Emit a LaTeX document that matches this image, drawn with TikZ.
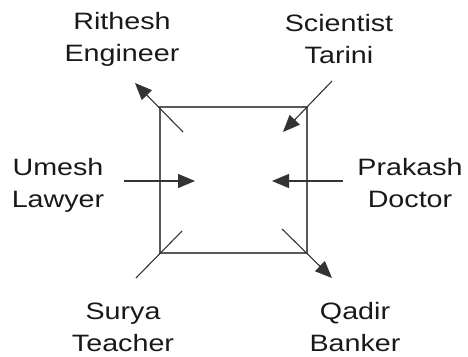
\documentclass[tikz,border=0pt]{standalone}
\usepackage{fontspec}
\setmainfont{Liberation Sans}
\usetikzlibrary{arrows.meta}
\tikzset{
  person/.style={align=center, anchor=base, xscale=1.21, text=black!90,
    font=\fontsize{23.7}{32}\selectfont},
  seat/.style={draw=black!80, line width=1.1pt},
  face/.style={seat, -{Triangle[length=17pt,width=14pt]}},
}
\begin{document}
\begin{tikzpicture}[x=1pt,y=-1pt]
  \useasboundingbox (0,0) rectangle (468,356);
  % table
  \draw[black!65, line width=1.6pt] (160,107) rectangle (307,253);
  % people (base = last line)
  \node[person] (rithesh) at (122,61.5) {Rithesh\\Engineer};
  \node[person] (tarini) at (339,63) {Scientist\\Tarini};
  \node[person] (umesh) at (58,207) {Umesh\\Lawyer};
  \node[person] (prakash) at (410,207) {Prakash\\Doctor};
  \node[person] (surya) at (123,351) {Surya\\Teacher};
  \node[person] (qadir) at (355,351) {Qadir\\Banker};
  % facing directions
  \coordinate (nwIn) at (183,132);  \coordinate (nwOut) at (135,83);
  \coordinate (neOut) at (332,81);  \coordinate (neIn) at (283,132);
  \coordinate (wOut) at (124,181);  \coordinate (wIn) at (195,181);
  \coordinate (eOut) at (343,181);  \coordinate (eIn) at (272,181);
  \coordinate (swIn) at (182,231);  \coordinate (swOut) at (136,278);
  \coordinate (seIn) at (282,229);  \coordinate (seOut) at (332,278);
  \draw[face] (nwIn) -- (nwOut);
  \draw[face] (neOut) -- (neIn);
  \draw[face] (wOut) -- (wIn);
  \draw[face] (eOut) -- (eIn);
  \draw[seat] (swIn) -- (swOut);
  \draw[face] (seIn) -- (seOut);
\end{tikzpicture}
\end{document}
